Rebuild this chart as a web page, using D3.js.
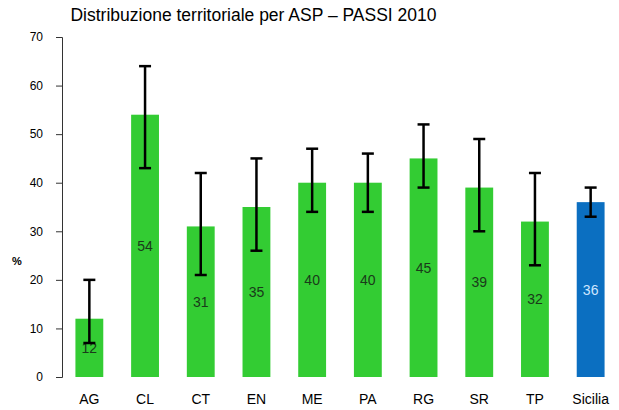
<!DOCTYPE html>
<html><head><meta charset="utf-8">
<script src="https://cdn.jsdelivr.net/npm/d3@7"></script>
<style>body{margin:0;background:#fff}svg{display:block}</style>
</head><body>
<svg id="c" width="619" height="410"></svg>
<script>
const categories = ["AG","CL","CT","EN","ME","PA","RG","SR","TP","Sicilia"];
const values = [12,54,31,35,40,40,45,39,32,36];
const lower = [7,43,21,26,34,34,39,30,23,33];
const upper = [20,64,42,45,47,46,52,49,42,39];
const yTicks = [0,10,20,30,40,50,60,70];
const title = "Distribuzione territoriale per ASP \u2013 PASSI 2010";

const svg = d3.select("#c");
const font = "'Liberation Sans', Arial, sans-serif";
const x = d3.scaleBand().domain(categories).range([61.5, 618.5]).paddingInner(0.5).paddingOuter(0.25);
const y = d3.scaleLinear().domain([0,70]).range([377, 37]);

svg.append("text").attr("x", 253.5).attr("y", 21).attr("text-anchor","middle")
  .attr("font-family", font).attr("font-size",17.5).attr("fill","#000").text(title);

const yAxis = d3.axisLeft(y).tickValues(yTicks).tickSize(6).tickPadding(13);
const ga = svg.append("g").attr("transform","translate(62,0)").call(yAxis);
ga.select(".domain").attr("stroke","#333").attr("d","M-6,37.5H0.5V377.5H-6");
ga.selectAll(".tick line").attr("stroke","#333");
ga.selectAll(".tick text").attr("font-family",font).attr("font-size",12).attr("fill","#000");

svg.append("text").attr("x", 12).attr("y", 265).attr("font-family",font)
  .attr("font-size",11).attr("font-weight","bold").text("%");

svg.selectAll("rect.bar").data(categories).join("rect").attr("class","bar")
  .attr("x", d => x(d)).attr("width", x.bandwidth())
  .attr("y", (d,i) => y(values[i])).attr("height", (d,i) => y(0) - y(values[i]))
  .attr("fill", d => d === "Sicilia" ? "#0b6fc1" : "#33cc33");

svg.selectAll("text.val").data(categories).join("text").attr("class","val")
  .attr("x", d => x(d) + x.bandwidth()/2)
  .attr("y", (d,i) => y(values[i]/2) + 5)
  .attr("text-anchor","middle").attr("font-family",font).attr("font-size",14)
  .attr("fill", d => d === "Sicilia" ? "#cfe6ff" : "#1a3a1a")
  .text((d,i) => values[i]);

const eb = svg.append("g").attr("stroke","#000").attr("stroke-width",2.5);
categories.forEach((c,i) => {
  const cx = x(c) + x.bandwidth()/2;
  eb.append("line").attr("x1",cx).attr("x2",cx).attr("y1",y(lower[i])).attr("y2",y(upper[i]));
  eb.append("line").attr("x1",cx-6).attr("x2",cx+6).attr("y1",y(lower[i])).attr("y2",y(lower[i]));
  eb.append("line").attr("x1",cx-6).attr("x2",cx+6).attr("y1",y(upper[i])).attr("y2",y(upper[i]));
});

svg.selectAll("text.cat").data(categories).join("text").attr("class","cat")
  .attr("x", d => x(d) + x.bandwidth()/2).attr("y", 404)
  .attr("text-anchor","middle").attr("font-family",font).attr("font-size",14)
  .attr("fill","#000").text(d => d);
</script>
</body></html>
